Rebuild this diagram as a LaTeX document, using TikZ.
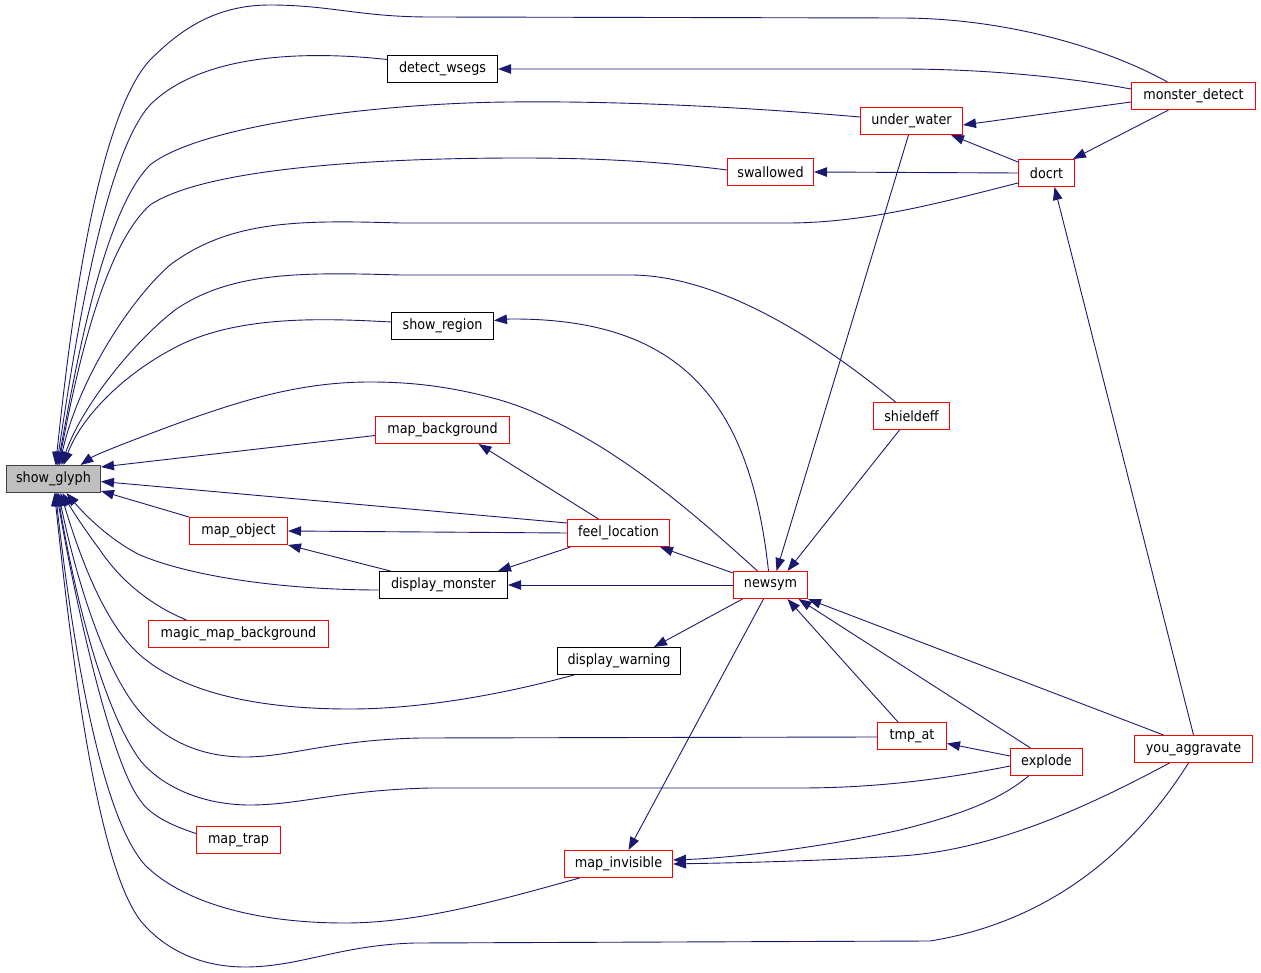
\documentclass[tikz,border=0pt]{standalone}
\usepackage{fontspec}
\setmainfont{DejaVu Sans Condensed}
\usetikzlibrary{arrows.meta,calc}
\definecolor{edgec}{HTML}{191970}
\definecolor{boxred}{HTML}{FF0000}
\definecolor{sgfill}{HTML}{BFBFBF}
\begin{document}
\begin{tikzpicture}[x=1pt,y=-1pt,
  font=\fontsize{14.2}{16}\selectfont,
  rbox/.style={draw=boxred, line width=1pt, fill=white, minimum height=27pt, inner sep=0pt, text=black},
  kbox/.style={draw=black, line width=1pt, fill=white, minimum height=27pt, inner sep=0pt, text=black},
  link/.style={draw=edgec, line width=0.9pt, -{Triangle[length=13pt,width=9.5pt]}}]
\useasboundingbox (0,0) rectangle (1261,973);
% nodes
\node[kbox, fill=sgfill, draw=black!75, minimum width=94pt] (sg) at (53.5,479) {show\_glyph};
\node[kbox, minimum width=110pt] (dw) at (442.5,69) {detect\_wsegs};
\node[rbox, minimum width=102pt] (uw) at (911.5,121) {under\_water};
\node[rbox, minimum width=124pt] (md) at (1193.5,96) {monster\_detect};
\node[rbox, minimum width=86pt] (sw) at (770.5,172) {swallowed};
\node[rbox, minimum width=56pt] (dc) at (1046.5,173) {docrt};
\node[kbox, minimum width=102pt] (sr) at (442.5,326) {show\_region};
\node[rbox, minimum width=76pt] (sd) at (911.5,416) {shieldeff};
\node[rbox, minimum width=134pt] (mb) at (442.5,430) {map\_background};
\node[rbox, minimum width=102pt] (fl) at (618.5,533) {feel\_location};
\node[rbox, minimum width=98pt] (mo) at (238.5,531) {map\_object};
\node[kbox, minimum width=128pt] (dm) at (443.5,585) {display\_monster};
\node[rbox, minimum width=74pt] (ns) at (770.5,585) {newsym};
\node[rbox, minimum width=180pt] (mmb) at (238.5,634) {magic\_map\_background};
\node[kbox, minimum width=123pt] (dwn) at (619,661) {display\_warning};
\node[rbox, minimum width=69pt] (tmp) at (912,736) {tmp\_at};
\node[rbox, minimum width=72pt] (ex) at (1046.5,762) {explode};
\node[rbox, minimum width=118pt] (ya) at (1193.5,749) {you\_aggravate};
\node[rbox, minimum width=84pt] (mt) at (238.5,840) {map\_trap};
\node[rbox, minimum width=108pt] (mi) at (618.5,864) {map\_invisible};
% edges into show_glyph (top)
\draw[link] ([xshift=-26pt]md.north) .. controls (1110,50) and (1010,18) .. (900,18) -- (430,17) .. controls (360,17) and (330,5) .. (270,5) .. controls (215,5) and (180,30) .. (150,60) .. controls (90,125) and (65,380) .. ([xshift=2pt]sg.north);
\draw[link] ([yshift=9.5pt]dw.west) .. controls (300,50) and (200,55) .. (150,105) .. controls (100,160) and (70,380) .. ([xshift=3pt]sg.north);
\draw[link] ([yshift=4pt]uw.west) .. controls (720,105) and (600,101) .. (510,102) .. controls (380,103) and (200,125) .. (150,165) .. controls (100,215) and (72,390) .. ([xshift=4pt]sg.north);
\draw[link] ([yshift=2pt]sw.west) .. controls (650,160) and (580,158) .. (520,158) .. controls (400,158) and (210,165) .. (150,205) .. controls (100,250) and (73,390) .. ([xshift=5pt]sg.north);
\draw[link] ([yshift=-10pt]dc.west) .. controls (950,200) and (870,223) .. (787,223) -- (400,223) .. controls (300,220) and (230,220) .. (170,265) .. controls (130,300) and (78,380) .. ([xshift=6pt]sg.north);
\draw[link] ([xshift=-16pt]sd.north) .. controls (820,340) and (720,275) .. (630,275) -- (400,275) .. controls (300,272) and (230,272) .. (175,310) .. controls (130,345) and (80,410) .. ([xshift=8pt]sg.north);
\draw[link] ([yshift=4pt]sr.west) .. controls (320,318) and (240,316) .. (180,345) .. controls (120,375) and (80,420) .. ([xshift=10pt]sg.north);
\draw[link] ([xshift=-13pt]ns.north) .. controls (690,510) and (600,430) .. (500,400) .. controls (450,386) and (410,382) .. (370,382) .. controls (300,382) and (240,400) .. (160,430) .. controls (120,445) and (95,455) .. ([xshift=27pt]sg.north);
\draw[link] ([yshift=-5.5pt]mb.west) -- ([yshift=-2pt]sg.north east);
\draw[link] ([yshift=10pt]fl.west) -- ([yshift=-2.5pt]sg.east);
\draw[link] (mo.north west) -- ([yshift=2pt]sg.south east);
% edges into show_glyph (bottom)
\draw[link] ([yshift=-5pt]dm.west) .. controls (300,590) and (200,580) .. (140,555) .. controls (110,540) and (85,515) .. ([xshift=13pt]sg.south);
\draw[link] ([xshift=-52pt]mmb.north) .. controls (150,605) and (120,580) .. (100,550) .. controls (85,530) and (72,510) .. ([xshift=9pt]sg.south);
\draw[link] ([xshift=-45pt]dwn.south) .. controls (500,695) and (420,709) .. (350,709) .. controls (250,709) and (180,690) .. (140,655) .. controls (100,620) and (75,540) .. ([xshift=7pt]sg.south);
\draw[link] ([yshift=-1pt]tmp.west) -- (420,738) .. controls (330,740) and (290,757) .. (245,757) .. controls (200,757) and (165,740) .. (140,712) .. controls (100,665) and (72,560) .. ([xshift=5pt]sg.south);
\draw[link] ([yshift=-4pt]ex.west) .. controls (950,778) and (880,788) .. (800,788) -- (430,788) .. controls (340,790) and (300,805) .. (250,805) .. controls (200,805) and (160,785) .. (140,760) .. controls (100,705) and (72,580) .. ([xshift=4pt]sg.south);
\draw[link] ([yshift=6.5pt]mt.west) .. controls (170,825) and (150,815) .. (140,800) .. controls (110,760) and (75,600) .. ([xshift=3pt]sg.south);
\draw[link] ([xshift=-39pt]mi.south) .. controls (500,900) and (420,923) .. (345,923) .. controls (250,923) and (180,900) .. (145,865) .. controls (100,815) and (72,640) .. ([xshift=2pt]sg.south);
\draw[link] ([xshift=-5pt]ya.south) .. controls (1140,840) and (1060,920) .. (930,941) -- (415,943) .. controls (340,945) and (300,967) .. (245,967) .. controls (195,967) and (160,945) .. (140,920) .. controls (95,860) and (70,640) .. ([xshift=1pt]sg.south);
% other edges
\draw[link] ([yshift=7pt]md.west) .. controls (1060,76) and (980,69) .. (900,69) -- (dw.east);
\draw[link] ([yshift=-6pt]md.west) -- ([yshift=-4pt]uw.east);
\draw[link] ([xshift=-25pt]md.south) -- ([xshift=-2pt]dc.north east);
\draw[link] ([yshift=-3pt]dc.north west) -- ([xshift=-12pt]uw.south east);
\draw[link] (dc.west) -- (sw.east);
\draw[link] (ya.north) -- ([xshift=8pt]dc.south);
\draw[link] ([xshift=-3pt]uw.south) -- ([xshift=6pt]ns.north);
\draw[link] ([xshift=-12pt]sd.south) -- ([xshift=17pt]ns.north);
\draw[link] ([xshift=-2pt]ns.north) .. controls (750,400) and (680,318) .. (510,319) -- ([yshift=5.5pt]sr.east);
\draw[link] ([xshift=-20pt]fl.north) -- ([xshift=36pt]mb.south);
\draw[link] (fl.west) -- (mo.east);
\draw[link] ([xshift=-53pt]dm.north) -- (mo.south east);
\draw[link] ([xshift=-48pt]fl.south) -- ([xshift=-10pt]dm.north east);
\draw[link] ([yshift=12pt]ns.west) -- ([xshift=-10pt]fl.south east);
\draw[link] (ns.west) -- (dm.east);
\draw[link] ([xshift=-28pt]ns.south) -- ([xshift=35pt]dwn.north);
\draw[link] ([xshift=-14pt]tmp.north) -- ([xshift=17pt]ns.south);
\draw[link] ([xshift=-16pt]ex.north) -- ([xshift=28pt]ns.south);
\draw[link] ([yshift=6pt]ex.west) -- ([yshift=-7.5pt]tmp.east);
\draw[link] ([xshift=-18pt]ex.south) .. controls (1000,800) and (960,815) .. (900,830) .. controls (820,848) and (730,858) .. ([yshift=4pt]mi.east);
\draw[link] ([xshift=-30pt]ya.north) -- (ns.south east);
\draw[link] ([xshift=-24pt]ya.south) .. controls (1100,800) and (1000,850) .. (900,856) .. controls (800,862) and (720,863) .. (mi.east);
\draw[link] ([xshift=-7pt]ns.south) -- ([xshift=10pt]mi.north);
\end{tikzpicture}
\end{document}
